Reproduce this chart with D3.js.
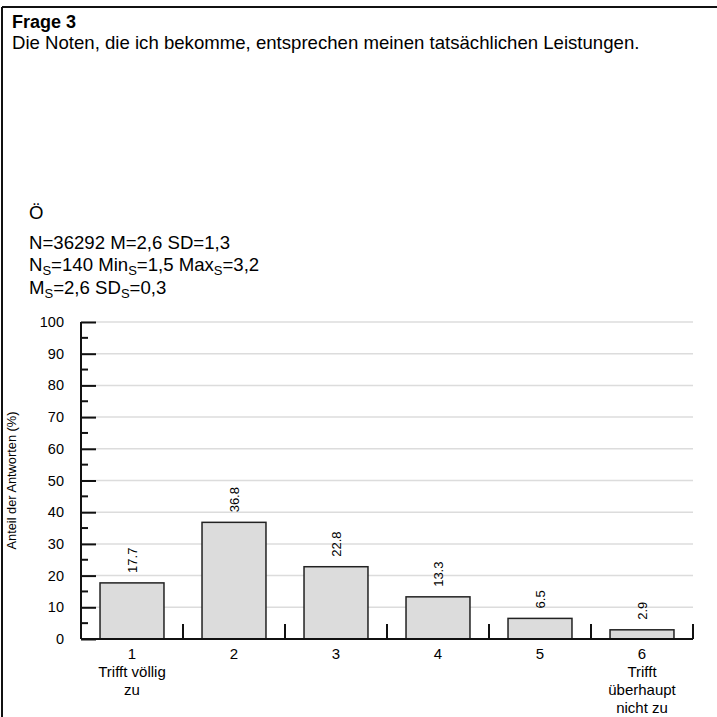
<!DOCTYPE html>
<html><head><meta charset="utf-8">
<script src="https://cdn.jsdelivr.net/npm/d3@7/dist/d3.min.js"></script>
<style>html,body{margin:0;padding:0;background:#fff;}svg{display:block;font-family:"Liberation Sans",Arial,sans-serif;}</style>
</head><body>
<script>
const categories = ["1","2","3","4","5","6"];
const categoryTexts = [["Trifft völlig","zu"],[],[],[],[],["Trifft","überhaupt","nicht zu"]];
const values = [17.7, 36.8, 22.8, 13.3, 6.5, 2.9];
const yTicks = [0,10,20,30,40,50,60,70,80,90,100];
const title = "Frage 3";
const question = "Die Noten, die ich bekomme, entsprechen meinen tatsächlichen Leistungen.";
const groupLabel = "Ö";
const yLabel = "Anteil der Antworten (%)";

const W = 717, H = 717;
const svg = d3.select("body").append("svg").attr("width", W).attr("height", H);

// frame (top and left)
svg.append("line").attr("x1",2).attr("x2",W).attr("y1",7).attr("y2",7).attr("stroke","#111").attr("stroke-width",2);
svg.append("line").attr("x1",2).attr("x2",2).attr("y1",7).attr("y2",H).attr("stroke","#111").attr("stroke-width",2);

svg.append("text").attr("x",12).attr("y",28).attr("font-size",18).attr("font-weight","bold").text(title);
svg.append("text").attr("x",12).attr("y",49).attr("font-size",18.6).text(question);
svg.append("text").attr("x",29).attr("y",219).attr("font-size",18.6).text(groupLabel);

function statLine(y, parts){
  const t = svg.append("text").attr("x",29).attr("y",y).attr("font-size",18.6);
  parts.forEach(p=>{
    if (p.sub) t.append("tspan").attr("font-size",13).attr("dy",4).text(p.t);
    else t.append("tspan").attr("dy", p.up ? -4 : 0).text(p.t);
  });
}
statLine(249, [{t:"N=36292 M=2,6 SD=1,3"}]);
statLine(271, [{t:"N"},{t:"S",sub:1},{t:"=140 Min",up:1},{t:"S",sub:1},{t:"=1,5 Max",up:1},{t:"S",sub:1},{t:"=3,2",up:1}]);
statLine(294, [{t:"M"},{t:"S",sub:1},{t:"=2,6 SD",up:1},{t:"S",sub:1},{t:"=0,3",up:1}]);

const x0 = 81, x1 = 693, y0 = 639, y1 = 322;
const x = d3.scaleBand().domain(categories).range([x0,x1]).paddingInner(0).paddingOuter(0);
const y = d3.scaleLinear().domain([0,100]).range([y0,y1]);

// gridlines
svg.append("g").selectAll("line").data(yTicks.filter(d=>d>0)).join("line")
  .attr("x1",x0).attr("x2",x1).attr("y1",d=>y(d)).attr("y2",d=>y(d))
  .attr("stroke","#dcdcdc").attr("stroke-width",1.5);

// y axis with inward ticks
const yAxis = d3.axisRight(y).tickValues(yTicks).tickSize(15).tickFormat("");
const ga = svg.append("g").attr("transform",`translate(${x0},0)`).call(yAxis);
ga.select(".domain").remove();
ga.selectAll("line").attr("stroke","#111").attr("stroke-width",2);
const minor = d3.range(5,100,10);
svg.append("g").selectAll("line").data(minor).join("line")
  .attr("x1",x0).attr("x2",x0+7).attr("y1",d=>y(d)).attr("y2",d=>y(d))
  .attr("stroke","#111").attr("stroke-width",2);
svg.append("line").attr("x1",x0).attr("x2",x0).attr("y1",y1).attr("y2",y0).attr("stroke","#111").attr("stroke-width",2);
svg.append("g").selectAll("text").data(yTicks).join("text")
  .attr("x",64).attr("y",d=>y(d)+5).attr("text-anchor","end").attr("font-size",14.5).text(d=>d);

svg.append("text").attr("transform",`translate(16,${(y0+y1)/2}) rotate(-90)`).attr("text-anchor","middle")
  .attr("font-size",12.8).text(yLabel);

// bars
const bw = x.bandwidth()*0.627;
svg.append("g").selectAll("rect").data(values).join("rect")
  .attr("x",(d,i)=>x(categories[i])+x.bandwidth()/2-bw/2)
  .attr("width",bw)
  .attr("y",d=>y(d)).attr("height",d=>y0-y(d))
  .attr("fill","#dcdcdc").attr("stroke","#222").attr("stroke-width",1.5);

// value labels
svg.append("g").selectAll("text").data(values).join("text")
  .attr("transform",(d,i)=>`translate(${x(categories[i])+x.bandwidth()/2+4.5},${y(d)-10}) rotate(-90)`)
  .attr("font-size",13).text(d=>d.toFixed(1));

// x axis
svg.append("line").attr("x1",x0).attr("x2",x1).attr("y1",y0).attr("y2",y0).attr("stroke","#111").attr("stroke-width",2);
const bounds = categories.map(c=>x(c)+x.bandwidth());
svg.append("g").selectAll("line").data(bounds).join("line")
  .attr("x1",d=>d).attr("x2",d=>d).attr("y1",y0).attr("y2",y0-15).attr("stroke","#111").attr("stroke-width",2);

const cl = svg.append("g").selectAll("g").data(categories).join("g")
  .attr("transform",c=>`translate(${x(c)+x.bandwidth()/2},0)`);
cl.append("text").attr("y",659).attr("text-anchor","middle").attr("font-size",15).text(c=>c);
cl.each(function(c,i){
  d3.select(this).selectAll("text.sub").data(categoryTexts[i]).join("text").attr("class","sub")
    .attr("y",(d,j)=>677+j*18).attr("text-anchor","middle").attr("font-size",15).text(d=>d);
});
</script>
</body></html>
